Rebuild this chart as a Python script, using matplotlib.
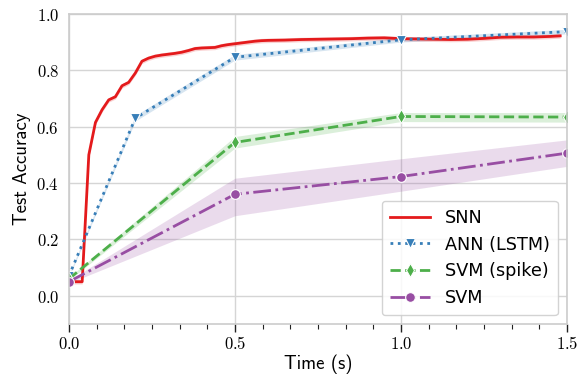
import numpy as np
import matplotlib
matplotlib.use("Agg")
import matplotlib.pyplot as plt
from matplotlib.ticker import MultipleLocator, FuncFormatter

# ---------------- data ----------------
snn_t = [0.00, 0.02, 0.04, 0.06, 0.08, 0.10, 0.12, 0.14, 0.16, 0.18, 0.20, 0.22,
         0.24, 0.26, 0.28, 0.30, 0.32, 0.34, 0.36, 0.38, 0.40, 0.42, 0.44, 0.46,
         0.48, 0.50, 0.52, 0.54, 0.56, 0.58, 0.60, 0.65, 0.70, 0.75, 0.80, 0.85,
         0.90, 0.95, 1.00, 1.05, 1.10, 1.15, 1.20, 1.25, 1.30, 1.35, 1.40, 1.45, 1.48]
snn_acc = [0.05, 0.05, 0.05, 0.50, 0.615, 0.66, 0.695, 0.706, 0.745, 0.757, 0.79, 0.832,
           0.843, 0.850, 0.854, 0.857, 0.860, 0.864, 0.870, 0.877, 0.879, 0.880, 0.881, 0.887,
           0.891, 0.894, 0.897, 0.900, 0.903, 0.905, 0.906, 0.907, 0.909, 0.910, 0.911, 0.912,
           0.914, 0.915, 0.912, 0.911, 0.910, 0.909, 0.910, 0.913, 0.917, 0.918, 0.918, 0.920, 0.922]
snn_err = 0.008

ann_t = [0.0, 0.2, 0.5, 1.0, 1.5]
ann_acc = [0.07, 0.63, 0.846, 0.908, 0.937]
ann_err = [0.005, 0.01, 0.01, 0.008, 0.008]

svms_t = [0.0, 0.5, 1.0, 1.5]
svms_acc = [0.06, 0.544, 0.636, 0.634]
svms_lo = [0.055, 0.524, 0.618, 0.616]
svms_hi = [0.065, 0.565, 0.650, 0.650]

svm_t = [0.0, 0.5, 1.0, 1.5]
svm_acc = [0.05, 0.36, 0.423, 0.506]
svm_lo = [0.045, 0.284, 0.371, 0.459]
svm_hi = [0.055, 0.417, 0.486, 0.553]

labels = ["SNN", "ANN (LSTM)", "SVM (spike)", "SVM"]
colors = ["#e41a1c", "#377eb8", "#4daf4a", "#984ea3"]

# ---------------- style ----------------
plt.rcParams["mathtext.fontset"] = "cm"
plt.rcParams["axes.unicode_minus"] = False

fig = plt.figure(figsize=(5.79, 3.75), dpi=100)
ax = fig.add_axes([0.119, 0.136, 0.860, 0.827])

for s in ax.spines.values():
    s.set_color("#cccccc")
    s.set_linewidth(1.2)
ax.grid(True, which="major", color="#d5d5d5", linewidth=1.0)
ax.set_axisbelow(True)

lw = 2.0
# SNN
ax.fill_between(snn_t, np.array(snn_acc) - snn_err, np.array(snn_acc) + snn_err,
                color=colors[0], alpha=0.2, linewidth=0)
ax.plot(snn_t, snn_acc, color=colors[0], lw=lw, ls="-", label=labels[0])
# ANN
ax.fill_between(ann_t, np.array(ann_acc) - np.array(ann_err), np.array(ann_acc) + np.array(ann_err),
                color=colors[1], alpha=0.2, linewidth=0)
ax.plot(ann_t, ann_acc, color=colors[1], lw=lw, ls=":", marker="v", markersize=7,
        markeredgecolor="white", markeredgewidth=0.8, label=labels[1])
# SVM (spike)
ax.fill_between(svms_t, svms_lo, svms_hi, color=colors[2], alpha=0.2, linewidth=0)
ax.plot(svms_t, svms_acc, color=colors[2], lw=lw, ls=(0, (3.7, 1.6)), marker="d", markersize=7,
        markeredgecolor="white", markeredgewidth=0.8, label=labels[2])
# SVM
ax.fill_between(svm_t, svm_lo, svm_hi, color=colors[3], alpha=0.2, linewidth=0)
ax.plot(svm_t, svm_acc, color=colors[3], lw=lw, ls="-.", marker="o", markersize=7,
        markeredgecolor="white", markeredgewidth=0.8, label=labels[3])

ax.set_xlim(0, 1.5)
ax.set_ylim(-0.1, 1.0)
ax.xaxis.set_major_locator(MultipleLocator(0.5))
ax.xaxis.set_minor_locator(MultipleLocator(1 / 12))
ax.yaxis.set_major_locator(MultipleLocator(0.2))
fmt = FuncFormatter(lambda v, p: r"$%.1f$" % (0.0 if abs(v) < 1e-9 else v))
ax.xaxis.set_major_formatter(fmt)
ax.yaxis.set_major_formatter(fmt)
ax.tick_params(axis="x", which="major", length=6, width=1.0, color="#222222",
               direction="out", labelsize=12, pad=2)
ax.tick_params(axis="x", which="minor", length=3.5, width=0.8, color="#222222", direction="out")
ax.tick_params(axis="y", which="both", length=0, labelsize=12, pad=7)

ax.set_xlabel("Time (s)", family="cmss10", fontsize=13.5, labelpad=1)
ax.set_ylabel("Test Accuracy", family="cmss10", fontsize=13.5, labelpad=4)

leg = ax.legend(loc="lower right", fontsize=12.7, frameon=True, fancybox=True,
                framealpha=0.85, edgecolor="#cccccc", borderpad=0.45, labelspacing=0.5,
                handlelength=2.3, handletextpad=0.85, borderaxespad=0.5)

fig.savefig("out.png", dpi=100)
